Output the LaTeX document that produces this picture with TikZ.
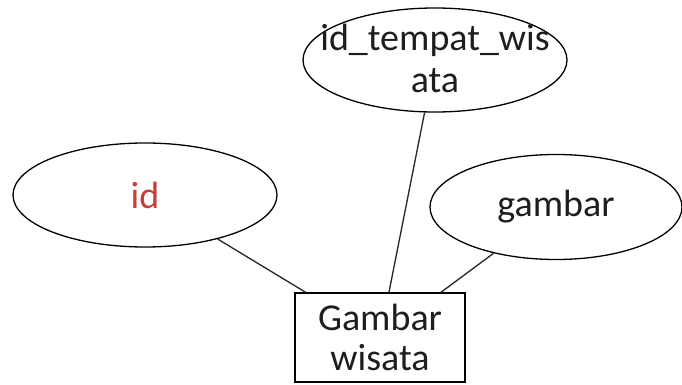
\documentclass[tikz,border=0pt]{standalone}
\usepackage{fontspec}
\setmainfont{Carlito}
\usetikzlibrary{shapes.geometric}
\definecolor{keyred}{RGB}{196,62,58}
\definecolor{txt}{RGB}{30,30,30}
\begin{document}
\begin{tikzpicture}[x=1pt,y=1pt,
  attr/.style={ellipse,draw=black,line width=1.3pt,inner sep=0pt,align=center,text=txt,font=\fontsize{38}{40}\selectfont},
  ent/.style={rectangle,draw=black,line width=1.3pt,inner sep=0pt,align=center,text=txt,minimum width=170pt,minimum height=89pt,font=\fontsize{38}{40}\selectfont},
  link/.style={line width=1.3pt,draw=black!85}]
\useasboundingbox[fill=white] (0,0) rectangle (682,-385);
\node[attr,minimum width=264pt,minimum height=104pt] (idtw) at (435,-60)
  {\smash{\makebox[0pt]{\raisebox{-9pt}{\renewcommand{\arraystretch}{1.05}\setlength{\tabcolsep}{0pt}\begin{tabular}{c}id\_tempat\_wis\\ata\end{tabular}}}}};
\node[attr,minimum width=264pt,minimum height=104pt,text=keyred] (id) at (145,-195) {id};
\node[attr,minimum width=252pt,minimum height=105pt] (gambar) at (556,-207) {gambar};
\node[ent] (gw) at (380,-337.5) {Gambar\\wisata};
\draw[link] (id) -- (gw);
\draw[link] (idtw) -- (gw);
\draw[link] (gambar) -- (gw);
\end{tikzpicture}
\end{document}
